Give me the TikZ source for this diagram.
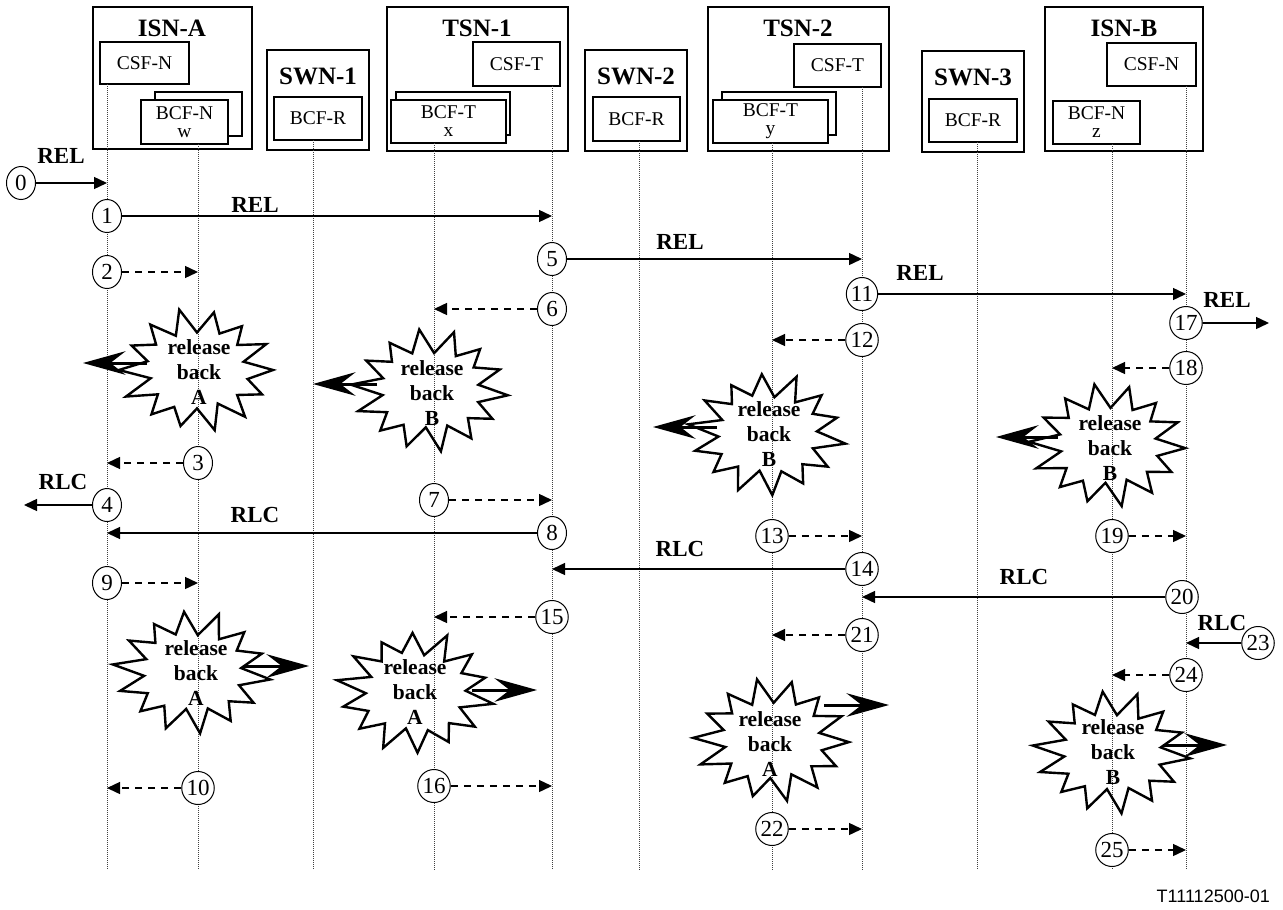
\documentclass[tikz,border=0pt]{standalone}
\usepackage{fontspec}
\setmainfont{Liberation Serif}
\newfontfamily\footfont{Liberation Sans}
\usetikzlibrary{arrows.meta,shapes.geometric}

\newcommand\drawbox[7]{%
  \pgfmathsetmacro\bw{#5-#3}%
  \pgfmathsetmacro\bh{#6-#4}%
  \node[#1, minimum width=\bw pt, minimum height=\bh pt] (#2) at ({(#3+#5)/2},{(#4+#6)/2}) {#7};}

\newcommand\burst[3]{%
  \draw[burstline] plot[samples at={0,1,...,27}, variable=\k]
   ({#1+cos(\k*360/28+#3)*(mod(\k,2)==0?76:50)*(1+0.05*sin(\k*131+#3*7))},
    {#2+sin(\k*360/28+#3)*(mod(\k,2)==0?59:39)*(1+0.05*sin(\k*131+#3*7))}) -- cycle;}

% thick arrow out of a starburst: name, x start, y, x tip
\newcommand\bigarr[4]{%
  \coordinate (#1a) at (#2,#3);
  \coordinate (#1b) at (#4,#3);
  \pgfmathsetmacro\dd{(#4>#2)?1:-1}%
  \draw[line width=3pt] (#1a) -- ([xshift={-\dd*18pt}]#1b);
  \filldraw[line width=1.6pt, line join=miter, miter limit=20]
     (#1b) -- ++({-\dd*36},-10) -- ++({\dd*13},10) -- ++({-\dd*13},10) -- cycle;}

\begin{document}
\begin{tikzpicture}[x=1pt,y=-1pt,
  ob/.style={draw, line width=1.3pt, fill=white, inner sep=0pt},
  ib/.style={draw, line width=1.3pt, fill=white, inner sep=0pt, align=center, font=\fontsize{19.5}{18}\selectfont},
  rb/.style={ib, line width=2.2pt},
  ttl/.style={font=\bfseries\fontsize{25}{26}\selectfont, inner sep=0pt},
  life/.style={line width=0.9pt, dash pattern=on 1pt off 1pt, black!75},
  num/.style={draw, ellipse, line width=1pt, fill=white, minimum width=29pt, minimum height=33pt, inner sep=0pt, font=\fontsize{23}{24}\selectfont},
  msg/.style={line width=1.4pt, -{Triangle[length=13pt,width=12pt]}},
  dmsg/.style={msg, dash pattern=on 7pt off 6pt},
  lbl/.style={font=\bfseries\fontsize{23}{24}\selectfont, inner sep=0pt},
  burstline/.style={line width=2.4pt, line join=miter, miter limit=20},
  bursttext/.style={font=\bfseries\fontsize{21.5}{25}\selectfont, align=center, inner sep=0pt}
]
\useasboundingbox (0,0) rectangle (1283,910);

% ---------- boxes ----------
\drawbox{ob}{isnA}{93}{7}{252}{149}{}
\node[ttl] (isnAt) at (172,28) {ISN-A};
\drawbox{ib}{csfA}{100}{42}{189}{84}{CSF-N}
\drawbox{ib}{bcfAb}{155}{92}{242}{136}{}
\drawbox{ib}{bcfA}{141}{100}{228}{144}{BCF-N\\w}

\drawbox{ob}{swn1}{267}{50}{369}{150}{}
\node[ttl] (swn1t) at (318,76) {SWN-1};
\drawbox{rb}{bcfR1}{274}{97}{362}{140}{BCF-R}

\drawbox{ob}{tsn1}{387}{7}{568}{151}{}
\node[ttl] (tsn1t) at (477,28) {TSN-1};
\drawbox{ib}{csfT1}{473}{42}{560}{86}{CSF-T}
\drawbox{ib}{bcfT1b}{396}{92}{510}{135}{}
\drawbox{ib}{bcfT1}{391}{100}{506}{143}{BCF-T\\x}

\drawbox{ob}{swn2}{585}{50}{687}{151}{}
\node[ttl] (swn2t) at (636,76) {SWN-2};
\drawbox{rb}{bcfR2}{593}{97}{680}{141}{BCF-R}

\drawbox{ob}{tsn2}{708}{7}{889}{151}{}
\node[ttl] (tsn2t) at (798,28) {TSN-2};
\drawbox{ib}{csfT2}{794}{44}{881}{87}{CSF-T}
\drawbox{ib}{bcfT2b}{722}{92}{836}{135}{}
\drawbox{ib}{bcfT2}{713}{100}{828}{143}{BCF-T\\y}

\drawbox{ob}{swn3}{922}{51}{1024}{152}{}
\node[ttl] (swn3t) at (973,77) {SWN-3};
\drawbox{rb}{bcfR3}{929}{99}{1017}{142}{BCF-R}

\drawbox{ob}{isnB}{1045}{7}{1203}{151}{}
\node[ttl] (isnBt) at (1124,28) {ISN-B};
\drawbox{ib}{csfB}{1107}{43}{1196}{86}{CSF-N}
\drawbox{ib}{bcfB}{1053}{101}{1140}{144}{BCF-N\\z}

% ---------- lifelines ----------
\foreach \n/\x/\y in {1/107/84, 2/198/144, 3/313/140, 4/434/143, 5/552/86, 6/639/141,
                      7/772/143, 8/862/87, 9/977/142, 10/1112/144, 11/1186/86}{
  \coordinate (L\n t) at (\x,\y);
  \coordinate (L\n b) at (\x,870);
  \draw[life] (L\n t) -- (L\n b);
}

% ---------- starbursts ----------
\burst{197}{370}{0}
\node[bursttext] (s1) at (199,372) {release\\back\\A};
\bigarr{s1}{147}{363}{86}

\burst{430}{390}{5}
\node[bursttext] (s2) at (432,393) {release\\back\\B};
\bigarr{s2}{377}{384}{316}

\burst{767}{434}{9}
\node[bursttext] (s3) at (769,434) {release\\back\\B};
\bigarr{s3}{717}{427}{656}

\burst{1108}{445}{3}
\node[bursttext] (s4) at (1110,448) {release\\back\\B};
\bigarr{s4}{1058}{437}{999}

\burst{192}{672}{7}
\node[bursttext] (s5) at (196,673) {release\\back\\A};
\bigarr{s5}{243}{666}{306}

\burst{415}{692}{11}
\node[bursttext] (s6) at (415,692) {release\\back\\A};
\bigarr{s6}{472}{690}{534}

\burst{772}{740}{2}
\node[bursttext] (s7) at (770,744) {release\\back\\A};
\bigarr{s7}{824}{705}{886}

\burst{1112}{752}{6}
\node[bursttext] (s8) at (1113,752) {release\\back\\B};
\bigarr{s8}{1163}{745}{1224}

% ---------- numbered events ----------
\node[num] (n0) at (21,183) {0};
\node[num] (n1) at (107,216) {1};
\node[num] (n2) at (107,272) {2};
\node[num] (n3) at (198,463) {3};
\node[num] (n4) at (107,505) {4};
\node[num] (n5) at (552,259) {5};
\node[num] (n6) at (552,309) {6};
\node[num] (n7) at (434,500) {7};
\node[num] (n8) at (552,533) {8};
\node[num] (n9) at (107,583) {9};
\node[num] (n10) at (198,788) {10};
\node[num] (n11) at (862,294) {11};
\node[num] (n12) at (862,340) {12};
\node[num] (n13) at (772,536) {13};
\node[num] (n14) at (862,569) {14};
\node[num] (n15) at (552,617) {15};
\node[num] (n16) at (434,786) {16};
\node[num] (n17) at (1186,323) {17};
\node[num] (n18) at (1186,368) {18};
\node[num] (n19) at (1112,536) {19};
\node[num] (n20) at (1182,597) {20};
\node[num] (n21) at (862,635) {21};
\node[num] (n22) at (772,829) {22};
\node[num] (n23) at (1258,643) {23};
\node[num] (n24) at (1186,675) {24};
\node[num] (n25) at (1112,850) {25};

\coordinate (e4) at (24,505);
\coordinate (e17) at (1269,323);

% solid messages
\draw[msg] (n0) -- (n0 -| L1t);
\draw[msg] (n1) -- (n1 -| L5t);
\draw[msg] (n5) -- (n5 -| L8t);
\draw[msg] (n11) -- (n11 -| L11t);
\draw[msg] (n17) -- (e17);
\draw[msg] (n4) -- (e4);
\draw[msg] (n8) -- (n8 -| L1t);
\draw[msg] (n14) -- (n14 -| L5t);
\draw[msg] (n20) -- (n20 -| L8t);
\draw[msg] (n23) -- (n23 -| L11t);

% dashed messages
\draw[dmsg] (n2) -- (n2 -| L2t);
\draw[dmsg] (n6) -- (n6 -| L4t);
\draw[dmsg] (n12) -- (n12 -| L7t);
\draw[dmsg] (n18) -- (n18 -| L10t);
\draw[dmsg] (n3) -- (n3 -| L1t);
\draw[dmsg] (n7) -- (n7 -| L5t);
\draw[dmsg] (n13) -- (n13 -| L8t);
\draw[dmsg] (n19) -- (n19 -| L11t);
\draw[dmsg] (n9) -- (n9 -| L2t);
\draw[dmsg] (n15) -- (n15 -| L4t);
\draw[dmsg] (n21) -- (n21 -| L7t);
\draw[dmsg] (n24) -- (n24 -| L10t);
\draw[dmsg] (n10) -- (n10 -| L1t);
\draw[dmsg] (n16) -- (n16 -| L5t);
\draw[dmsg] (n22) -- (n22 -| L8t);
\draw[dmsg] (n25) -- (n25 -| L11t);

% message labels
\node[lbl] (r0) at (61,156) {REL};
\node[lbl] (r1) at (255,205) {REL};
\node[lbl] (r5) at (680,242) {REL};
\node[lbl] (r11) at (920,273) {REL};
\node[lbl] (r17) at (1227,300) {REL};
\node[lbl] (c4) at (63,482) {RLC};
\node[lbl] (c8) at (255,515) {RLC};
\node[lbl] (c14) at (680,549) {RLC};
\node[lbl] (c20) at (1024,577) {RLC};
\node[lbl] (c23) at (1222,623) {RLC};

\node[font=\footfont\fontsize{18}{20}\selectfont, anchor=east, inner sep=0pt] (code) at (1270,896) {T11112500-01};
\end{tikzpicture}
\end{document}
